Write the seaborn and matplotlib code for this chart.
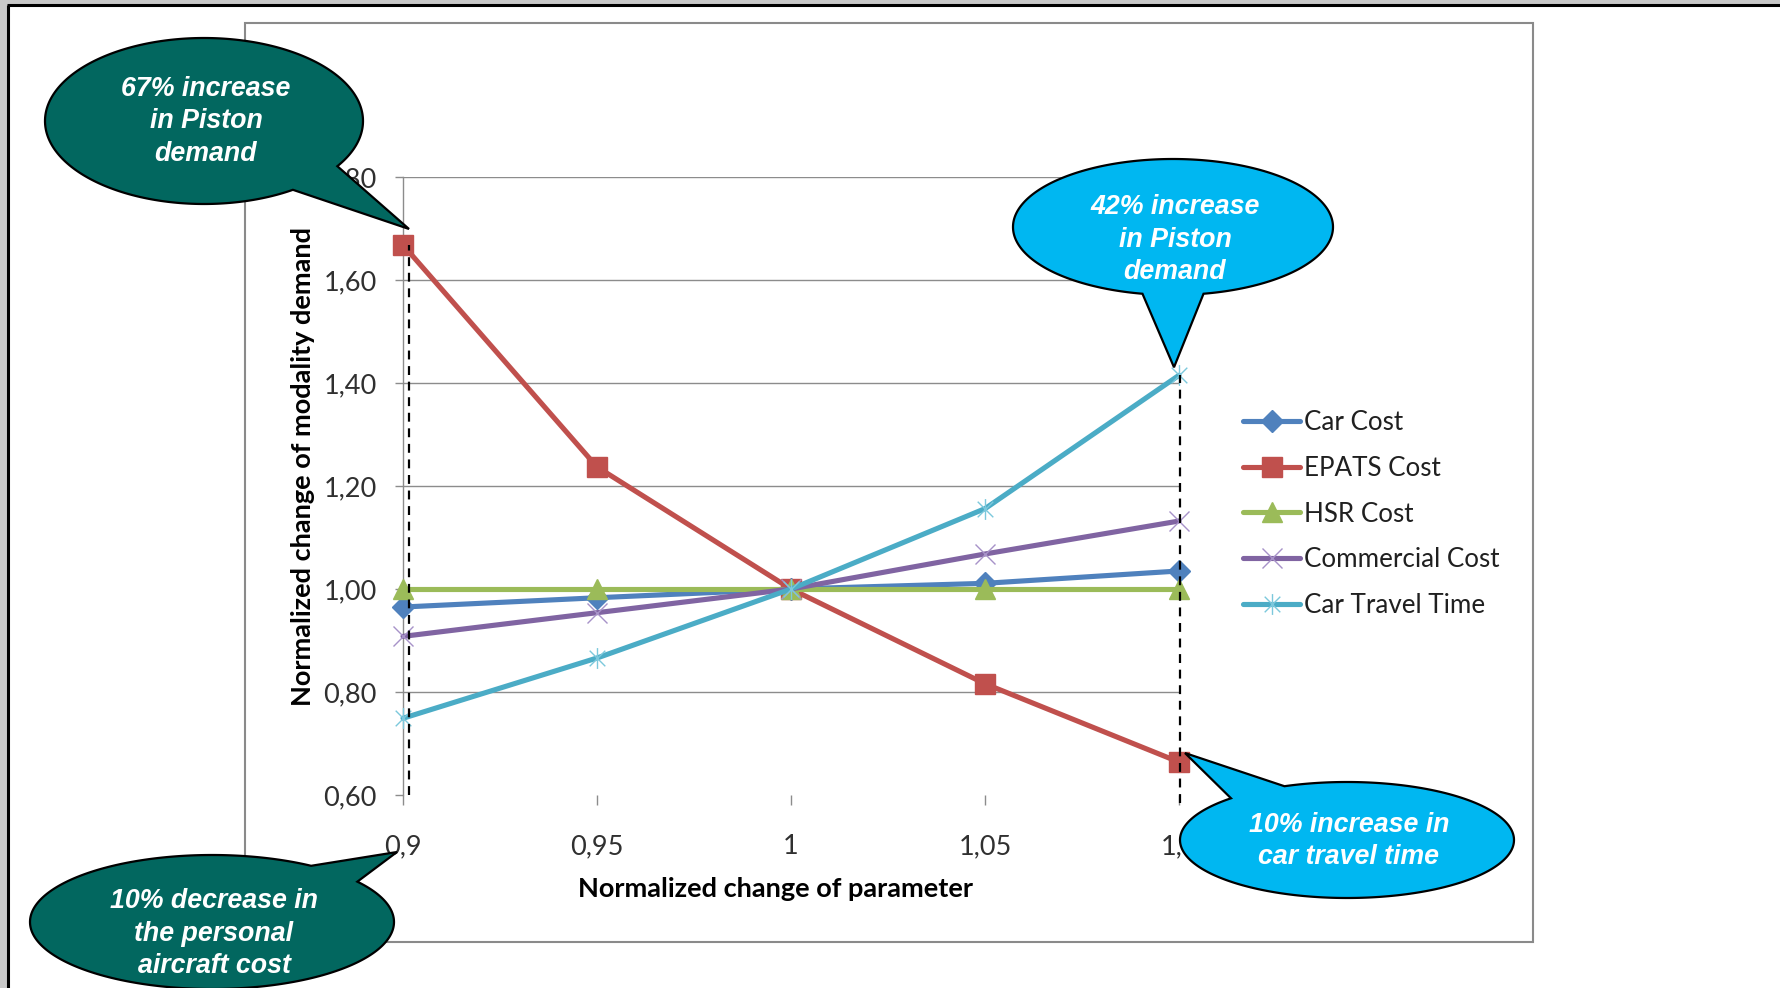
import numpy as np
import pandas as pd
import matplotlib
matplotlib.use("Agg")
import matplotlib.pyplot as plt
import seaborn as sns
from matplotlib.path import Path
from matplotlib.patches import Polygon, Rectangle
from matplotlib.lines import Line2D
import matplotlib.transforms as mtransforms

# ---- data -------------------------------------------------------------
param_change = [0.90, 0.95, 1.00, 1.05, 1.10]
car_cost = [0.965, 0.983, 1.000, 1.011, 1.035]
epats_cost = [1.668, 1.237, 1.000, 0.816, 0.664]
hsr_cost = [1.000, 1.000, 1.000, 1.000, 1.000]
commercial_cost = [0.908, 0.954, 1.000, 1.068, 1.132]
car_travel_time = [0.749, 0.866, 1.000, 1.156, 1.415]

x_ticks = [0.90, 0.95, 1.00, 1.05, 1.10]
x_tick_labels = ["0,9", "0,95", "1", "1,05", "1,1"]
y_ticks = [0.60, 0.80, 1.00, 1.20, 1.40, 1.60, 1.80]
y_tick_labels = ["0,60", "0,80", "1,00", "1,20", "1,40", "1,60", "1,80"]

series_names = ["Car Cost", "EPATS Cost", "HSR Cost", "Commercial Cost", "Car Travel Time"]
series_values = [car_cost, epats_cost, hsr_cost, commercial_cost, car_travel_time]

# ---- styling ----------------------------------------------------------
sns.set_theme(style="white")
plt.rcParams["font.family"] = ["Lato", "DejaVu Sans"]

W, H, DPI = 1780, 988, 100
fig = plt.figure(figsize=(W / DPI, H / DPI), dpi=DPI, facecolor="white")

# plot area in pixels: x 403..1179, y 177..795 (top-down)
ax_l, ax_r, ax_t, ax_b = 403, 1179, 177, 795
ax = fig.add_axes([ax_l / W, 1 - ax_b / H, (ax_r - ax_l) / W, (ax_b - ax_t) / H])
ax.set_facecolor("none")

star = Path(
    [(0, -1), (0, 1), (-0.75, -0.75), (0.75, 0.75), (-0.75, 0.75), (0.75, -0.75)],
    [Path.MOVETO, Path.LINETO, Path.MOVETO, Path.LINETO, Path.MOVETO, Path.LINETO],
)

styles = {
    "Car Cost": dict(color="#4F81BD", marker="D", markersize=11, mfc="#4F81BD", mec="#4F81BD", mew=1),
    "EPATS Cost": dict(color="#C0504D", marker="s", markersize=14, mfc="#C0504D", mec="#C0504D", mew=1),
    "HSR Cost": dict(color="#9BBB59", marker="^", markersize=14, mfc="#9BBB59", mec="#9BBB59", mew=1),
    "Commercial Cost": dict(color="#8064A2", marker="x", markersize=15, mec="#A792C8", mew=1.0),
    "Car Travel Time": dict(color="#4BACC6", marker=star, markersize=15, mec="#7CC8DC", mew=1.0),
}

handles = []
for name, vals in zip(series_names, series_values):
    df = pd.DataFrame({"param": param_change, "demand": vals})
    st = styles[name]
    sns.lineplot(data=df, x="param", y="demand", ax=ax, lw=3.7, clip_on=False,
                 legend=False, zorder=3, **st)
    handles.append(Line2D([], [], lw=3.7, **st))

ax.set_xlim(0.9, 1.1)
ax.set_ylim(0.6, 1.8)
ax.set_xticks(x_ticks, x_tick_labels)
ax.set_yticks(y_ticks, y_tick_labels)

grid_c = "#8C8C8C"
for yv in y_ticks[1:]:
    ax.axhline(yv, color=grid_c, lw=1.0, zorder=1)
for s in ["top", "right", "bottom"]:
    ax.spines[s].set_visible(False)
ax.spines["left"].set_color(grid_c)
ax.spines["left"].set_linewidth(1.0)

tick_fs = 19.5
ax.tick_params(axis="x", direction="out", length=7, width=1.0, color=grid_c,
               pad=21, labelsize=tick_fs, labelcolor="#303030", bottom=True)
ax.tick_params(axis="y", direction="out", length=6, width=1.0, color=grid_c,
               pad=13, labelsize=tick_fs, labelcolor="#303030", left=True)

ax.set_xlabel("Normalized change of parameter", fontsize=19.5, fontweight="bold", color="black")
ax.set_ylabel("Normalized change of modality demand", fontsize=19.5, fontweight="bold", color="black")
ax.xaxis.set_label_coords((775 - ax_l) / (ax_r - ax_l), (ax_b - 877) / (ax_b - ax_t))
ax.yaxis.set_label_coords((315 - ax_l) / (ax_r - ax_l), (ax_b - 466) / (ax_b - ax_t))

# dashed guides at the extreme parameter values
off = mtransforms.offset_copy(ax.transData, fig=fig, x=6, y=0, units="dots")
ax.plot([param_change[0]] * 2, [y_ticks[0], epats_cost[0]], ls=(0, (4, 3)), lw=1.6,
        color="black", transform=off, zorder=5, clip_on=False)
down = mtransforms.offset_copy(ax.transData, fig=fig, x=1, y=0, units="dots")
ax.plot([param_change[-1]] * 2, [y_ticks[0] - 0.016, car_travel_time[-1]], ls=(0, (4, 3)),
        lw=1.6, color="black", transform=down, zorder=5, clip_on=False)

leg = ax.legend(handles, series_names, loc="center left",
                bbox_to_anchor=(1243 / W, 1 - 514 / H), bbox_transform=fig.transFigure,
                frameon=False, fontsize=18.7, handlelength=2.2, handletextpad=0.15,
                labelspacing=0.80, borderpad=0, borderaxespad=0)
for t in leg.get_texts():
    t.set_color("#202020")

# ---- overlay in pixel coordinates ------------------------------------
ovl = fig.add_axes([0, 0, 1, 1], zorder=10)
ovl.set_xlim(0, W)
ovl.set_ylim(H, 0)
ovl.axis("off")
ovl.patch.set_alpha(0)

# page edge and chart frame
ovl.add_patch(Rectangle((0, 0), W, 5, color="#C8C8C8", lw=0, zorder=0))
ovl.add_patch(Rectangle((0, 0), 7, H, color="#C8C8C8", lw=0, zorder=0))
ovl.plot([7, W], [5.5, 5.5], color="black", lw=2.2, zorder=1, solid_capstyle="butt")
ovl.plot([8, 8], [5, H], color="black", lw=2.2, zorder=1, solid_capstyle="butt")
ovl.add_patch(Rectangle((245, 23), 1533 - 245, 942 - 23, fill=False, ec="#8A8A8A", lw=1.5, zorder=1))


def to_px(x, y):
    px, py = ax.transData.transform((x, y))
    return px, H - py


def bubble(cx, cy, a, b, th_a, th_b, tip, color, lines, ty):
    t = np.radians(np.linspace(th_b, th_a + 360, 300))
    pts = np.column_stack([cx + a * np.cos(t), cy + b * np.sin(t)])
    pts = np.vstack([pts, [tip]])
    ovl.add_patch(Polygon(pts, closed=True, fc=color, ec="black", lw=1.6, zorder=5,
                          joinstyle="miter"))
    ovl.text(cx + 2, ty, "\n".join(lines), ha="center", va="center", color="white",
             fontsize=19.3, fontweight="bold", fontstyle="italic",
             family="Liberation Sans", linespacing=1.32, zorder=6)


teal = "#02675F"
cyan = "#00B7F1"

tx, ty = to_px(param_change[0], epats_cost[0])
bubble(204, 121, 159, 83, 33, 56, (tx + 6, ty - 16), teal,
       ["67% increase", "in Piston", "demand"], 121.5)

tx, ty = to_px(param_change[-1], car_travel_time[-1])
bubble(1173, 227, 160, 68, 79, 101, (tx - 5, ty - 8), cyan,
       ["42% increase", "in Piston", "demand"], 239.5)

tx, ty = to_px(param_change[-1], epats_cost[-1])
bubble(1347, 840, 167, 58, -134, -112, (tx + 6, ty - 9), cyan,
       ["10% increase in", "car travel time"], 841)

tx, ty = to_px(param_change[0], y_ticks[0])
bubble(212, 922, 182, 67, -57, -37, (tx - 6, ty + 57), teal,
       ["10% decrease in", "the personal", "aircraft cost"], 933.5)

fig.savefig("out.png", dpi=DPI, facecolor="white")
